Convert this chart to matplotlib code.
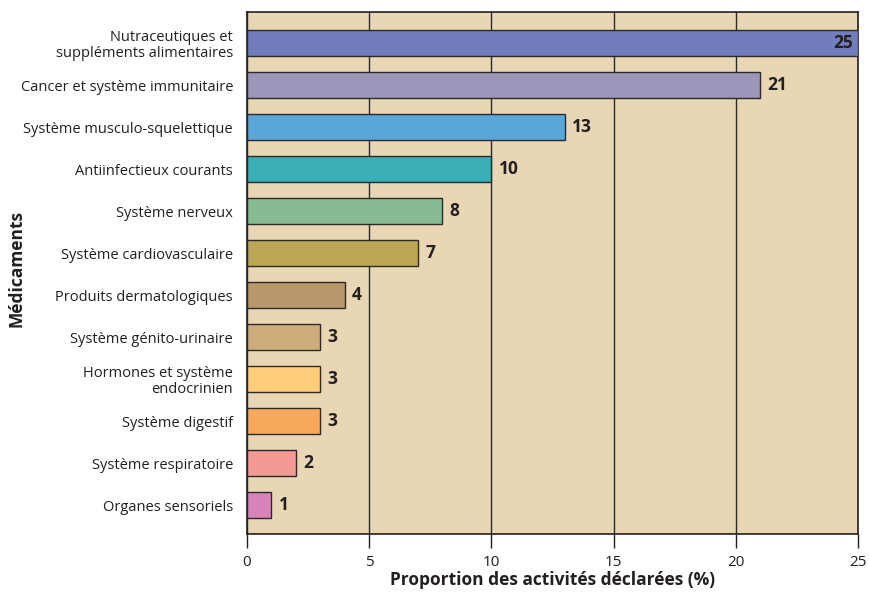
import matplotlib
matplotlib.use("Agg")
import matplotlib.pyplot as plt

categories = [
    "Nutraceutiques et\nsuppléments alimentaires",
    "Cancer et système immunitaire",
    "Système musculo-squelettique",
    "Antiinfectieux courants",
    "Système nerveux",
    "Système cardiovasculaire",
    "Produits dermatologiques",
    "Système génito-urinaire",
    "Hormones et système\nendocrinien",
    "Système digestif",
    "Système respiratoire",
    "Organes sensoriels",
]
values = [25, 21, 13, 10, 8, 7, 4, 3, 3, 3, 2, 1]
colors = ["#717DBD", "#9D95BA", "#5BA7DB", "#3AAFB5", "#86BB94", "#BBA755",
          "#B8976A", "#CFAD7A", "#FFCC7A", "#F7A85D", "#F39996", "#D883BA"]
xticks = [0, 5, 10, 15, 20, 25]

plt.rcParams['font.family'] = ['Open Sans', 'DejaVu Sans']

fig = plt.figure(figsize=(8.69, 5.95), dpi=100)
ax = fig.add_axes([0.2842, 0.1025, 0.7031, 0.8773])
ax.set_facecolor("#E8D6B5")

pos = list(range(len(categories)))
ax.barh(pos, values, height=0.62, color=colors, edgecolor="#2a2a2a",
        linewidth=1.0, zorder=3)
ax.set_ylim(len(categories) - 1 + 0.69, -0.74)
ax.set_xlim(0, 25)
ax.set_xticks(xticks)
ax.set_xticklabels([str(t) for t in xticks])
ax.xaxis.grid(True, color="#2a2a2a", linewidth=1.0, zorder=1)
ax.set_axisbelow(True)
ax.set_yticks(pos)
ax.set_yticklabels(categories, fontsize=10.5, color="#231f20", linespacing=1.05)
ax.tick_params(axis="y", length=0, pad=10)
ax.tick_params(axis="x", length=10, width=1.0, color="#231f20", labelsize=11,
               labelcolor="#231f20", pad=5)
for s in ax.spines.values():
    s.set_color("#231f20")
    s.set_linewidth(1.2)

for p, v in zip(pos, values):
    if v >= 25:
        ax.text(v - 0.2, p, str(v), ha="right", va="center", fontsize=12.5,
                fontweight="bold", color="#231f20", zorder=4)
    else:
        ax.text(v + 0.3, p, str(v), ha="left", va="center", fontsize=12.5,
                fontweight="bold", color="#231f20", zorder=4)

ax.set_xlabel("Proportion des activités déclarées (%)", fontsize=12.5,
              fontweight="bold", color="#231f20", labelpad=1)
fig.text(0.019, 0.548, "Médicaments", rotation=90, ha="center", va="center",
         fontsize=12.5, fontweight="bold", color="#231f20")

fig.savefig("out.png", dpi=100)
